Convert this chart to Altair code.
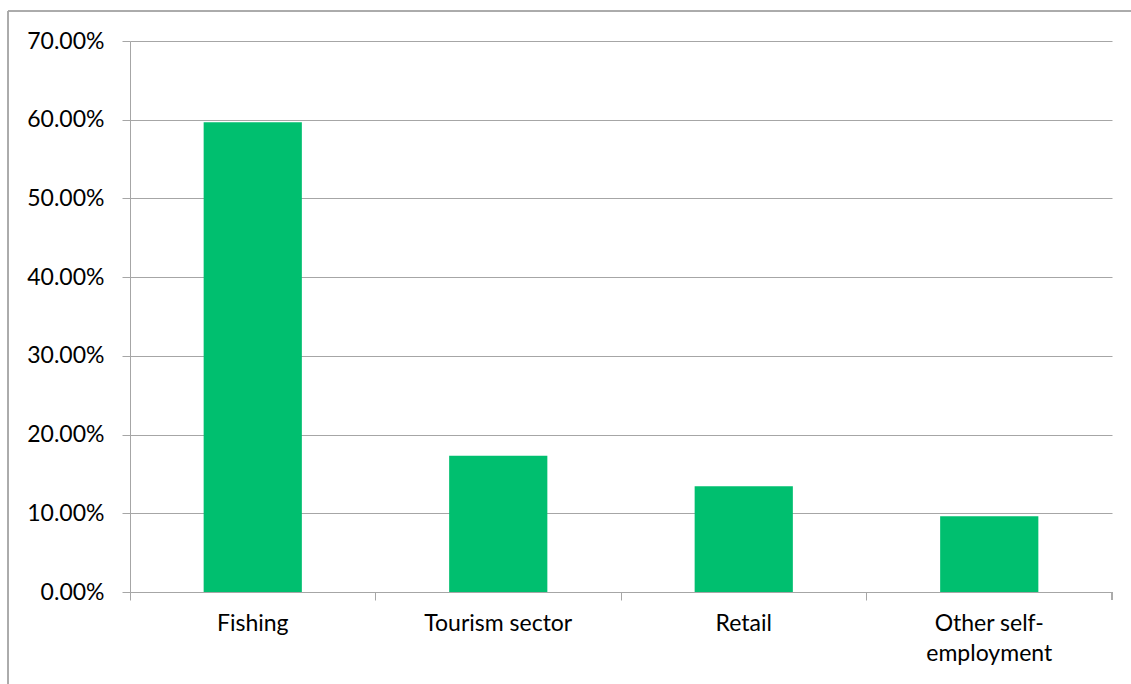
import altair as alt
import pandas as pd

categories = ["Fishing", "Tourism sector", "Retail", "Other self-employment"]
shares = [0.5968, 0.1732, 0.1343, 0.0962]
y_ticks = [0.0, 0.1, 0.2, 0.3, 0.4, 0.5, 0.6, 0.7]

df = pd.DataFrame({"category": categories, "share": shares})

W, H = 982, 551
GRAY = "#A6A6A6"
FONT = "Lato"

x_enc = alt.X(
    "category:N",
    sort=categories,
    scale=alt.Scale(paddingInner=0, paddingOuter=0),
    axis=alt.Axis(
        title=None,
        labelAngle=0,
        bandPosition=0,
        tickSize=8,
        tickColor=GRAY,
        domainColor=GRAY,
        labelPadding=12,
        labelFont=FONT,
        labelFontSize=23,
        labelColor="#000000",
        labelLineHeight=30,
        labelExpr="datum.value == 'Other self-employment' ? ['Other self-', 'employment'] : datum.label",
        grid=False,
    ),
)

bars = alt.Chart(df).mark_bar(
    color="#00BF6F", width=alt.RelativeBandSize(0.4)
).encode(
    x=x_enc,
    y=alt.Y(
        "share:Q",
        scale=alt.Scale(domain=[0, 0.7], nice=False),
        axis=alt.Axis(
            title=None,
            values=y_ticks,
            format=".2%",
            tickSize=8,
            tickColor=GRAY,
            domainColor=GRAY,
            gridColor=GRAY,
            labelPadding=18,
            labelFont=FONT,
            labelFontSize=23,
            labelColor="#000000",
        ),
    ),
)

end_tick = alt.Chart(df).mark_rule(color=GRAY, strokeWidth=1).encode(
    x=alt.value(W), y=alt.value(H), y2=alt.value(H + 8)
)

border = alt.Chart(df).mark_rect(
    fill=None, stroke=GRAY, strokeWidth=1
).encode(
    x=alt.value(-122), x2=alt.value(W + 40), y=alt.value(-30), y2=alt.value(H + 100)
)

chart = (
    alt.layer(border, bars, end_tick)
    .properties(
        width=W,
        height=H,
        autosize=alt.AutoSizeParams(type="none"),
        padding={"left": 130, "top": 41, "right": 19, "bottom": 92},
        background="#FFFFFF",
    )
    .configure_view(stroke=None)
)

chart.save("out.html", embed_options={"renderer": "svg", "actions": False})
